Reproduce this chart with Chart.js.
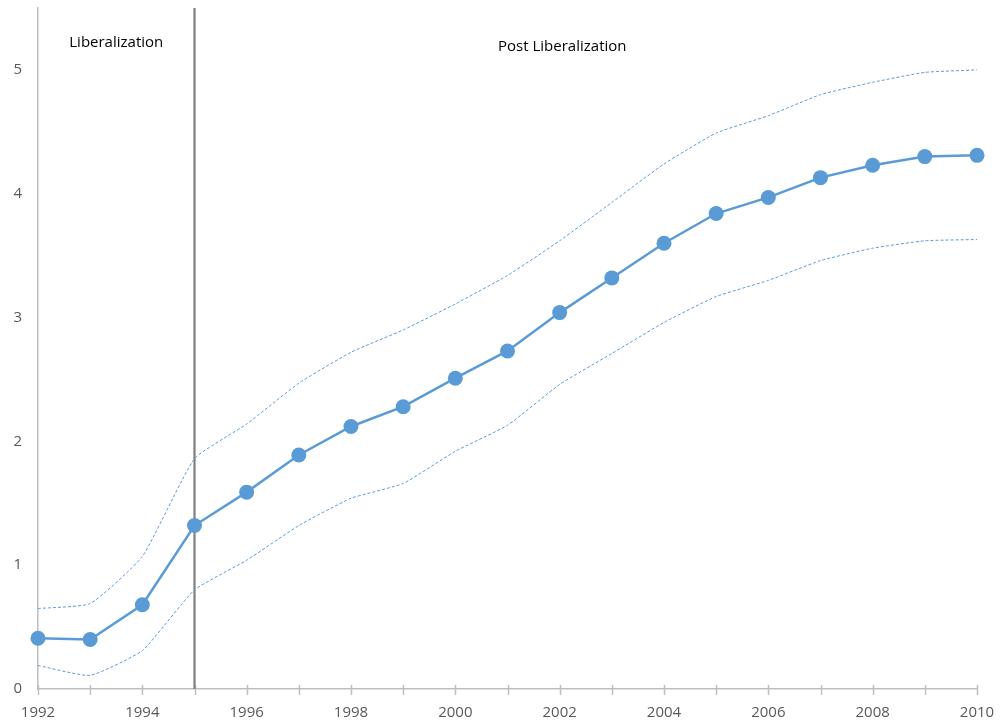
<!DOCTYPE html>
<html>
<head>
<meta charset="utf-8">
<script src="https://cdn.jsdelivr.net/npm/chart.js@4.4.1/dist/chart.umd.min.js"></script>
<style>
  html, body { margin: 0; padding: 0; background: #fff; }
  #wrap { width: 1000px; height: 726px; position: relative; }
</style>
</head>
<body>
<div id="wrap"><canvas id="c" width="1000" height="726"></canvas></div>
<script>
// Years on the horizontal axis
const years = [1992, 1993, 1994, 1995, 1996, 1997, 1998, 1999, 2000, 2001,
               2002, 2003, 2004, 2005, 2006, 2007, 2008, 2009, 2010];

// Central estimate
const estimate = [0.41, 0.40, 0.68, 1.32, 1.59, 1.89, 2.12, 2.28, 2.51, 2.73,
                  3.04, 3.32, 3.60, 3.84, 3.97, 4.13, 4.23, 4.30, 4.31];

// Upper and lower bands
const upperBand = [0.65, 0.69, 1.07, 1.86, 2.14, 2.47, 2.72, 2.90, 3.11, 3.34,
                   3.62, 3.93, 4.24, 4.49, 4.63, 4.80, 4.90, 4.98, 5.00];
const lowerBand = [0.19, 0.11, 0.31, 0.80, 1.04, 1.32, 1.54, 1.66, 1.92, 2.13,
                   2.46, 2.71, 2.96, 3.17, 3.30, 3.46, 3.56, 3.62, 3.63];

// Period boundary and period labels
const breakYear = 1995;
const periodLabels = [
  { text: 'Liberalization', x: 1993.5, y: 5.22 },
  { text: 'Post Liberalization', x: 2002.05, y: 5.19 }
];

const yTickValues = [0, 1, 2, 3, 4, 5];

const FONT = '"Open Sans", "Liberation Sans", sans-serif';
const BLUE = '#5b9bd5';

const toXY = arr => arr.map((v, i) => ({ x: years[i], y: v }));

// Draws the period divider, year tick marks across the axis and the period labels
const decorations = {
  id: 'decorations',
  beforeDatasetsDraw(chart) {
    const { ctx, chartArea, scales } = chart;
    const xs = scales.x;
    ctx.save();
    // tick marks crossing the x axis
    ctx.strokeStyle = '#bfbfbf';
    ctx.lineWidth = 1.5;
    years.forEach(y => {
      const px = Math.round(xs.getPixelForValue(y)) + 0.5;
      ctx.beginPath();
      ctx.moveTo(px, chartArea.bottom - 4);
      ctx.lineTo(px, chartArea.bottom + 6);
      ctx.stroke();
    });
    // divider at the start of the post-liberalization period
    const bx = xs.getPixelForValue(breakYear);
    ctx.strokeStyle = '#7f7f7f';
    ctx.lineWidth = 2.2;
    ctx.beginPath();
    ctx.moveTo(bx, chartArea.top);
    ctx.lineTo(bx, chartArea.bottom);
    ctx.stroke();
    // period labels
    ctx.fillStyle = '#000';
    ctx.font = '15px ' + FONT;
    ctx.textAlign = 'center';
    ctx.textBaseline = 'middle';
    periodLabels.forEach(l => {
      ctx.fillText(l.text, xs.getPixelForValue(l.x), scales.y.getPixelForValue(l.y));
    });
    ctx.restore();
  }
};

new Chart(document.getElementById('c'), {
  type: 'line',
  data: {
    datasets: [
      {
        label: 'Upper',
        data: toXY(upperBand),
        borderColor: BLUE,
        borderWidth: 1,
        borderDash: [3, 2],
        pointRadius: 0,
        tension: 0.15,
        fill: false
      },
      {
        label: 'Lower',
        data: toXY(lowerBand),
        borderColor: BLUE,
        borderWidth: 1,
        borderDash: [3, 2],
        pointRadius: 0,
        tension: 0.15,
        fill: false
      },
      {
        label: 'Estimate',
        data: toXY(estimate),
        borderColor: BLUE,
        backgroundColor: BLUE,
        borderWidth: 2.5,
        pointRadius: 7.5,
        pointBorderWidth: 0,
        pointBackgroundColor: BLUE,
        tension: 0,
        fill: false
      }
    ]
  },
  options: {
    responsive: false,
    animation: false,
    devicePixelRatio: 1,
    clip: false,
    layout: { padding: { top: 8, right: 23, left: 0, bottom: 0 } },
    plugins: {
      legend: { display: false },
      tooltip: { enabled: false }
    },
    scales: {
      x: {
        type: 'linear',
        min: 1992,
        max: 2010,
        afterBuildTicks(scale) {
          scale.ticks = years.filter(y => y % 2 === 0).map(v => ({ value: v }));
        },
        afterFit(scale) {
          scale.height = 37;
          scale.paddingLeft = 0;
          scale.paddingRight = 0;
        },
        grid: { display: false, drawTicks: false },
        border: { display: true, color: '#bfbfbf', width: 1.5 },
        ticks: {
          color: '#595959',
          font: { family: FONT, size: 15 },
          padding: 15,
          maxRotation: 0,
          callback: v => String(v)
        }
      },
      y: {
        min: 0,
        max: 5.5,
        afterBuildTicks(scale) {
          scale.ticks = yTickValues.map(v => ({ value: v }));
        },
        afterFit(scale) {
          scale.width = 38;
          scale.paddingTop = 0;
          scale.paddingBottom = 0;
        },
        grid: { display: false, drawTicks: false },
        border: { display: true, color: '#bfbfbf', width: 1.5 },
        ticks: {
          color: '#595959',
          font: { family: FONT, size: 15 },
          padding: 16,
          callback: v => String(v)
        }
      }
    }
  },
  plugins: [decorations]
});
</script>
</body>
</html>
